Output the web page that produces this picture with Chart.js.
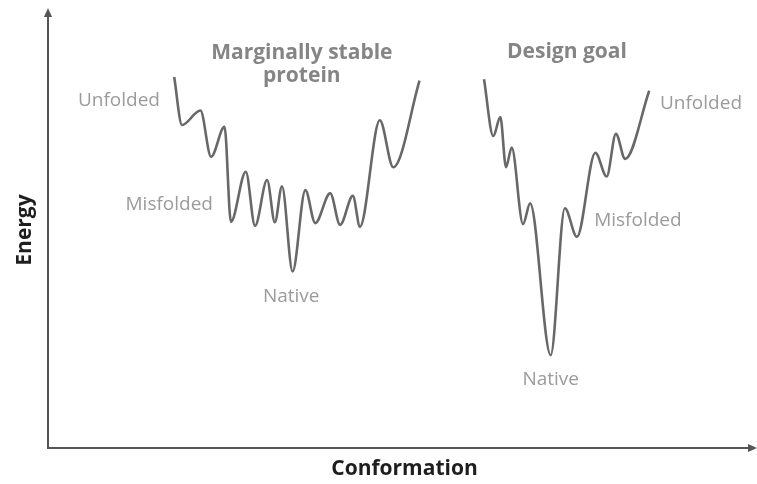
<!DOCTYPE html>
<html>
<head>
<meta charset="utf-8">
<script src="https://cdn.jsdelivr.net/npm/chart.js@4"></script>
<style>
  html, body { margin: 0; padding: 0; background: #fff; }
  #wrap { width: 757px; height: 484px; }
</style>
</head>
<body>
<div id="wrap"><canvas id="landscape"></canvas></div>
<script>
// conformation (0-100) vs energy (0-100)
const stableX = [17.8, 18.9, 21.5, 23.0, 24.9, 25.8, 27.9, 29.2, 30.9, 32.0, 33.0, 34.5, 36.3, 37.7, 39.8, 41.2, 43.0, 44.0, 46.8, 48.7, 52.4];
const stableE = [84.3, 73.4, 76.7, 66.2, 73.0, 51.4, 62.8, 50.5, 60.9, 51.3, 59.5, 40.1, 58.6, 51.1, 57.9, 50.7, 57.3, 50.3, 74.5, 63.8, 83.5];

const designX = [61.5, 62.8, 63.8, 64.6, 65.4, 67.0, 68.0, 70.9, 72.9, 74.6, 77.2, 78.8, 80.1, 81.4, 84.8];
const designE = [83.8, 70.9, 75.2, 63.8, 68.3, 50.9, 55.6, 21.1, 54.5, 48.0, 67.1, 61.7, 71.4, 65.7, 81.2];

// text labels placed in data units
const stateLabels = [
  { text: 'Unfolded', x: 10.0, e: 79.0 },
  { text: 'Misfolded', x: 17.1, e: 55.3 },
  { text: 'Native', x: 34.3, e: 34.3 },
  { text: 'Misfolded', x: 83.2, e: 51.6 },
  { text: 'Unfolded', x: 92.1, e: 78.2 },
  { text: 'Native', x: 70.9, e: 15.5 }
];
const titles = [
  { text: 'Marginally stable', x: 35.8, e: 89.8 },
  { text: 'protein', x: 35.8, e: 84.5 },
  { text: 'Design goal', x: 73.2, e: 90.0 }
];

const toPoints = (xs, es) => xs.map((x, i) => ({ x: x, y: es[i] }));

const drawExtras = {
  id: 'drawExtras',
  afterDraw(chart) {
    const ctx = chart.ctx;
    const area = chart.chartArea;
    const sx = chart.scales.x, sy = chart.scales.y;
    ctx.save();

    // axes with arrow heads
    ctx.strokeStyle = '#555';
    ctx.fillStyle = '#555';
    ctx.lineWidth = 2;
    ctx.beginPath();
    ctx.moveTo(area.left, area.top + 6);
    ctx.lineTo(area.left, area.bottom);
    ctx.lineTo(area.right - 4, area.bottom);
    ctx.stroke();
    ctx.beginPath();
    ctx.moveTo(area.left, area.top);
    ctx.lineTo(area.left - 4, area.top + 9);
    ctx.lineTo(area.left + 4, area.top + 9);
    ctx.closePath();
    ctx.fill();
    ctx.beginPath();
    ctx.moveTo(area.right, area.bottom);
    ctx.lineTo(area.right - 9, area.bottom - 4);
    ctx.lineTo(area.right - 9, area.bottom + 4);
    ctx.closePath();
    ctx.fill();

    ctx.textAlign = 'center';
    ctx.textBaseline = 'middle';

    ctx.fillStyle = '#9b9b9b';
    ctx.font = '19px "Open Sans"';
    stateLabels.forEach(l => {
      ctx.fillText(l.text, sx.getPixelForValue(l.x), sy.getPixelForValue(l.e));
    });

    ctx.fillStyle = '#858585';
    ctx.font = 'bold 21px "Open Sans"';
    titles.forEach(l => {
      ctx.fillText(l.text, sx.getPixelForValue(l.x), sy.getPixelForValue(l.e));
    });

    ctx.fillStyle = '#1e1e1e';
    ctx.font = 'bold 21px "Open Sans"';
    ctx.fillText('Conformation', (area.left + area.right) / 2 + 2, area.bottom + 21);
    ctx.font = 'bold 21px "Open Sans"';
    ctx.translate(25, 230);
    ctx.rotate(-Math.PI / 2);
    ctx.fillText('Energy', 0, 0);
    ctx.restore();
  }
};

new Chart(document.getElementById('landscape'), {
  type: 'line',
  data: {
    datasets: [
      {
        label: 'Marginally stable protein',
        data: toPoints(stableX, stableE),
        borderColor: '#686868',
        borderWidth: 2.6,
        pointRadius: 0,
        cubicInterpolationMode: 'monotone',
        fill: false
      },
      {
        label: 'Design goal',
        data: toPoints(designX, designE),
        borderColor: '#686868',
        borderWidth: 2.6,
        pointRadius: 0,
        cubicInterpolationMode: 'monotone',
        fill: false
      }
    ]
  },
  options: {
    responsive: true,
    maintainAspectRatio: false,
    animation: false,
    layout: { padding: { left: 48, right: 0, top: 8, bottom: 36 } },
    plugins: {
      legend: { display: false },
      tooltip: { enabled: false }
    },
    scales: {
      x: { type: 'linear', min: 0, max: 100, display: false },
      y: { type: 'linear', min: 0, max: 100, display: false }
    }
  },
  plugins: [drawExtras]
});
</script>
</body>
</html>
